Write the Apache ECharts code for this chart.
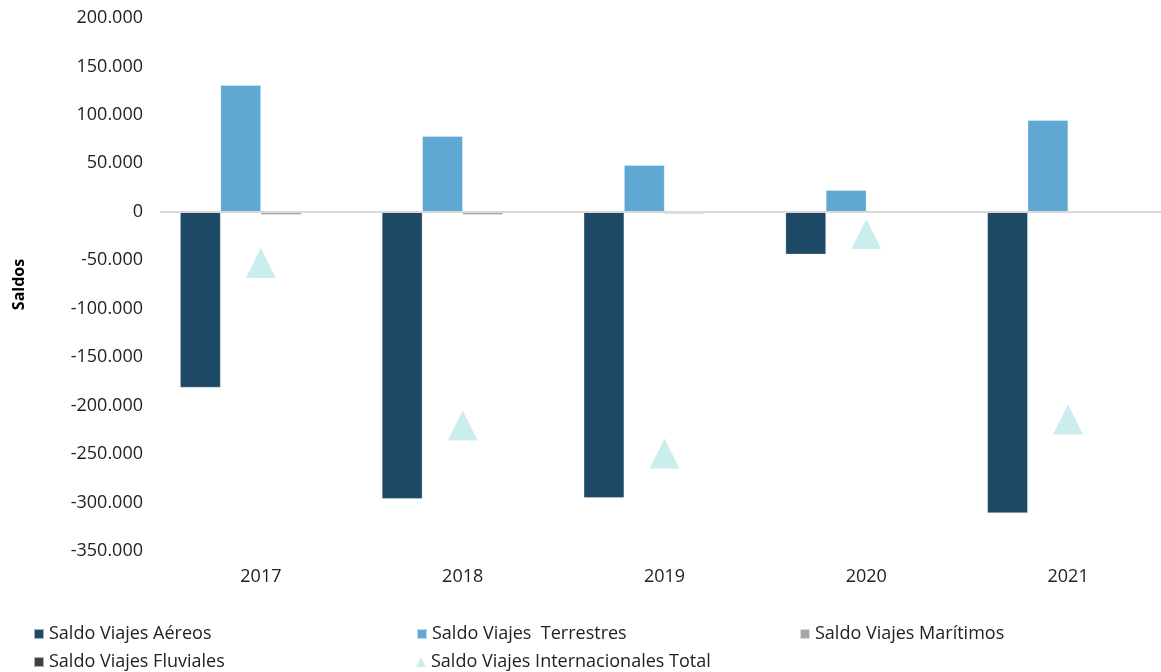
<!DOCTYPE html>
<html>
<head>
<meta charset="utf-8">
<script src="https://cdn.jsdelivr.net/npm/echarts@6/dist/echarts.min.js"></script>
<style>
  html, body { margin: 0; padding: 0; background: #fff; }
  #chart { width: 1161px; height: 672px; }
</style>
</head>
<body>
<div id="chart"></div>
<script>
const years = ['2017', '2018', '2019', '2020', '2021']
const aereos = [-181300, -296000, -295000, -43900, -310700]
const terrestres = [130700, 78000, 48000, 22200, 94500]
const maritimos = [-3000, -3000, -2000, -300, -300]
const fluviales = [-500, 0, -1000, 0, -300]
const total = [-52700, -220600, -249500, -23000, -214400]
const yTicks = { min: -350000, max: 200000, interval: 50000 }

const font = "'Open Sans', 'DejaVu Sans', sans-serif"
const chart = echarts.init(document.getElementById('chart'))

const barSeries = (name, data, color) => ({
  name,
  type: 'bar',
  data,
  barGap: 0,
  barCategoryGap: '20%',
  itemStyle: {
    color,
    borderColor: 'rgba(255,255,255,0.6)',
    borderWidth: 0.5
  }
})

const option = {
  animation: false,
  backgroundColor: '#fff',
  grid: {
    left: 160,
    width: 1009,
    top: 18,
    bottom: 121,
    outerBoundsMode: 'none'
  },
  legend: {
    left: 33,
    top: 625,
    width: 1140,
    padding: 0,
    itemWidth: 10,
    itemHeight: 10,
    itemGap: 10,
    textStyle: {
      fontFamily: font,
      fontSize: 18,
      color: '#222',
      width: 357,
      lineHeight: 17
    },
    data: [
      { name: 'Saldo Viajes Aéreos', icon: 'rect' },
      { name: 'Saldo Viajes  Terrestres', icon: 'rect' },
      { name: 'Saldo Viajes Marítimos', icon: 'rect' },
      { name: 'Saldo Viajes Fluviales', icon: 'rect' },
      { name: 'Saldo Viajes Internacionales Total', icon: 'triangle' }
    ]
  },
  xAxis: {
    type: 'category',
    data: years,
    axisLine: { show: false, onZero: false },
    axisTick: { show: false },
    axisLabel: {
      margin: 17,
      fontFamily: font,
      fontSize: 18,
      color: '#222'
    }
  },
  yAxis: {
    type: 'value',
    min: yTicks.min,
    max: yTicks.max,
    interval: yTicks.interval,
    name: 'Saldos',
    nameLocation: 'middle',
    nameGap: 133,
    nameTextStyle: {
      fontFamily: font,
      fontSize: 16,
      fontWeight: 'bold',
      color: '#000'
    },
    axisLine: { show: false },
    axisTick: { show: false },
    splitLine: { show: false },
    axisLabel: {
      margin: 17,
      fontFamily: font,
      fontSize: 18,
      color: '#222',
      formatter: (v) => v.toLocaleString('de-DE')
    }
  },
  series: [
    {
      ...barSeries('Saldo Viajes Aéreos', aereos, '#1d4966'),
      markLine: {
        silent: true,
        symbol: 'none',
        label: { show: false },
        lineStyle: { color: '#d9d9d9', width: 2, type: 'solid' },
        data: [{ yAxis: 0 }]
      }
    },
    barSeries('Saldo Viajes  Terrestres', terrestres, '#5fa8d3'),
    barSeries('Saldo Viajes Marítimos', maritimos, '#a6a6a6'),
    barSeries('Saldo Viajes Fluviales', fluviales, '#404040'),
    {
      name: 'Saldo Viajes Internacionales Total',
      type: 'scatter',
      data: total,
      symbol: 'triangle',
      symbolSize: [30, 30],
      itemStyle: { color: '#bfe8e8' },
      z: 5
    }
  ]
}
chart.setOption(option)
</script>
</body>
</html>
